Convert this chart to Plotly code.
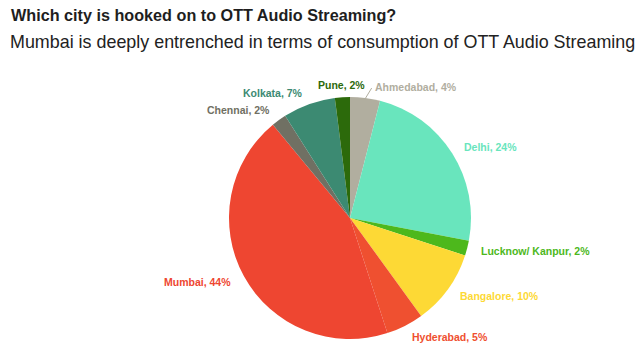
import math
import plotly.graph_objects as go

cities = ["Ahmedabad", "Delhi", "Lucknow/ Kanpur", "Bangalore", "Hyderabad",
          "Mumbai", "Chennai", "Kolkata", "Pune"]
shares = [4, 24, 2, 10, 5, 44, 2, 7, 2]
colors = ["#b1ae9f", "#69e5bd", "#4db81c", "#fdd935", "#ef5030",
          "#ee4631", "#707063", "#3c8a72", "#2c6a0b"]

W, H = 639, 349
cx, cy, r = 350, 218, 121
label_gap = 12
FONT = "Liberation Sans, Arial, Helvetica, sans-serif"

fig = go.Figure(go.Pie(
    labels=cities, values=shares, sort=False, direction="clockwise", rotation=0,
    marker=dict(colors=colors, line=dict(width=0)),
    textinfo="none", hoverinfo="skip", showlegend=False,
    domain=dict(x=[(cx - r) / W, (cx + r) / W], y=[(H - cy - r) / H, (H - cy + r) / H]),
))

# data labels placed at each slice's mid-angle, just outside the pie
total = sum(shares)
cum = 0.0
for name, val, col in zip(cities, shares, colors):
    mid = (cum + val / 2) / total * 2 * math.pi
    cum += val
    s, c = math.sin(mid), math.cos(mid)
    px = cx + (r + label_gap) * s
    py = cy - (r + label_gap) * c
    anchor = "left" if s > 0.1 else ("right" if s < -0.1 else "center")
    if name == "Ahmedabad":
        ex, ey = cx + (r - 1) * s, cy - (r - 1) * c
        px += 6
        py += 1
        fig.add_shape(type="line", xref="paper", yref="paper",
                      x0=ex / W, y0=1 - ey / H, x1=(px - 1) / W, y1=1 - (py + 1) / H,
                      line=dict(color=col, width=1))
    fig.add_annotation(text=f"<b>{name}, {val}%</b>", xref="paper", yref="paper",
                       x=px / W, y=1 - py / H, xanchor=anchor, yanchor="middle",
                       showarrow=False, font=dict(family=FONT, size=10.5, color=col))

fig.add_annotation(text="<b>Which city is hooked on to OTT Audio Streaming?</b>",
                   xref="paper", yref="paper", x=9 / W, y=1 - 4 / H,
                   xanchor="left", yanchor="top", showarrow=False,
                   font=dict(family=FONT, size=16.2, color="#1e1e1e"))
fig.add_annotation(text="Mumbai is deeply entrenched in terms of consumption of OTT Audio Streaming",
                   xref="paper", yref="paper", x=8 / W, y=1 - 30 / H,
                   xanchor="left", yanchor="top", showarrow=False,
                   font=dict(family=FONT, size=17.9, color="#222222"))

fig.update_layout(width=W, height=H, margin=dict(l=0, r=0, t=0, b=0),
                  paper_bgcolor="white", plot_bgcolor="white")
fig.write_html("out.html")
